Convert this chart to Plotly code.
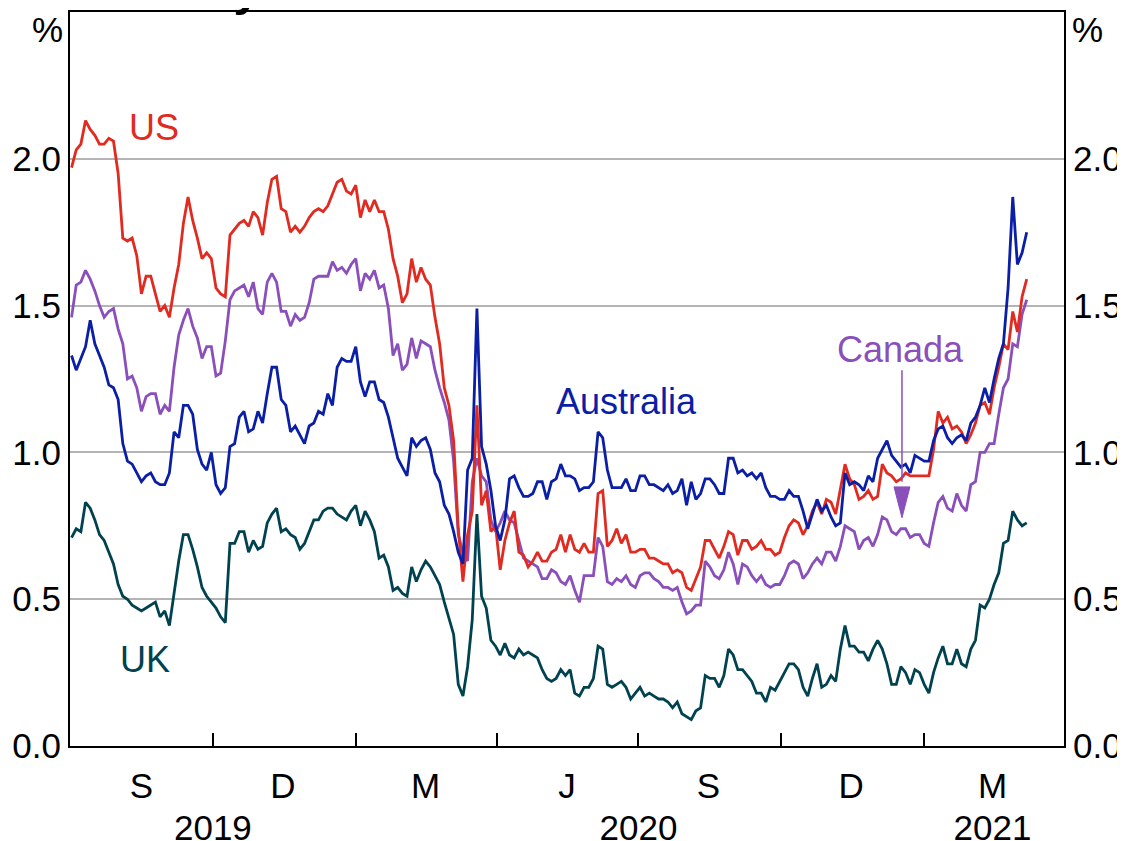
import pandas as pd
import plotly.graph_objects as go

# 10-year government bond yields, read every 3 days from Jul 2019 to Mar 2021 (%)
us = [1.97, 2.03, 2.05, 2.13, 2.10, 2.08, 2.05, 2.05, 2.07, 2.06,
      1.95, 1.73, 1.72, 1.73, 1.67, 1.54, 1.60, 1.60, 1.54, 1.48,
      1.50, 1.46, 1.56, 1.64, 1.78, 1.87, 1.79, 1.73, 1.66, 1.68,
      1.66, 1.56, 1.54, 1.53, 1.74, 1.76, 1.78,
      1.79, 1.77, 1.82, 1.80, 1.74, 1.85, 1.93, 1.94, 1.83, 1.82,
      1.75, 1.77, 1.75, 1.77, 1.80, 1.82, 1.83, 1.82, 1.84, 1.88,
      1.92, 1.93, 1.89, 1.88, 1.91, 1.80, 1.86, 1.82, 1.86, 1.82,
      1.82, 1.76, 1.66, 1.60, 1.51, 1.54, 1.66,
      1.58, 1.63, 1.59, 1.57, 1.46, 1.37, 1.22, 1.16, 1.04, 0.74,
      0.56, 0.72, 0.80, 1.16, 0.82, 0.87, 0.73, 0.75, 0.60, 0.70,
      0.76, 0.80, 0.66, 0.65, 0.61, 0.63, 0.66, 0.63, 0.63, 0.66,
      0.67, 0.72, 0.66, 0.72, 0.67, 0.66,
      0.69, 0.66, 0.66, 0.86, 0.87, 0.68, 0.70, 0.74, 0.69, 0.72,
      0.66, 0.66, 0.67, 0.67, 0.64, 0.64, 0.63, 0.62, 0.62, 0.59,
      0.60, 0.59, 0.54, 0.53, 0.57, 0.61, 0.70, 0.70, 0.67, 0.64,
      0.68, 0.73, 0.72, 0.65, 0.70, 0.70, 0.67,
      0.68, 0.70, 0.67, 0.67, 0.65, 0.66, 0.71, 0.75, 0.77, 0.76,
      0.72, 0.75, 0.80, 0.83, 0.79, 0.84, 0.83, 0.79, 0.87, 0.96,
      0.91, 0.89, 0.84, 0.85, 0.87, 0.84, 0.85, 0.96, 0.93, 0.92,
      0.90, 0.91, 0.93, 0.92, 0.92, 0.92,
      0.92, 0.92, 1.01, 1.14, 1.10, 1.12, 1.08, 1.09, 1.07, 1.03,
      1.06, 1.10, 1.16, 1.17, 1.13, 1.22, 1.29, 1.37, 1.35, 1.48,
      1.41, 1.53, 1.59]

canada = [1.46, 1.57, 1.58, 1.62, 1.59, 1.55, 1.50, 1.46, 1.48, 1.49,
          1.42, 1.37, 1.25, 1.26, 1.22, 1.14, 1.19, 1.20, 1.20, 1.13,
          1.16, 1.14, 1.29, 1.40, 1.45, 1.49, 1.43, 1.39, 1.32, 1.36,
          1.36, 1.26, 1.27, 1.38, 1.52, 1.55, 1.56,
          1.57, 1.53, 1.58, 1.49, 1.47, 1.58, 1.61, 1.58, 1.48, 1.48,
          1.43, 1.47, 1.45, 1.46, 1.51, 1.59, 1.60, 1.60, 1.60, 1.65,
          1.62, 1.63, 1.61, 1.64, 1.66, 1.55, 1.61, 1.59, 1.62, 1.56,
          1.57, 1.49, 1.33, 1.37, 1.28, 1.30, 1.39,
          1.32, 1.38, 1.37, 1.36, 1.28, 1.22, 1.17, 1.11, 0.97, 0.72,
          0.66, 0.63, 0.90, 0.98, 0.92, 0.90, 0.77, 0.73, 0.76, 0.80,
          0.77, 0.76, 0.70, 0.64, 0.63, 0.62, 0.61, 0.57, 0.57, 0.60,
          0.59, 0.56, 0.55, 0.58, 0.53, 0.49,
          0.58, 0.58, 0.58, 0.71, 0.68, 0.56, 0.55, 0.57, 0.56, 0.58,
          0.55, 0.54, 0.58, 0.59, 0.59, 0.57, 0.56, 0.54, 0.54, 0.53,
          0.54, 0.49, 0.45, 0.46, 0.48, 0.48, 0.63, 0.61, 0.58, 0.57,
          0.60, 0.66, 0.62, 0.55, 0.62, 0.61, 0.58,
          0.56, 0.58, 0.55, 0.54, 0.55, 0.55, 0.58, 0.62, 0.63, 0.62,
          0.57, 0.59, 0.62, 0.64, 0.62, 0.66, 0.66, 0.63, 0.68, 0.75,
          0.74, 0.73, 0.67, 0.70, 0.71, 0.68, 0.72, 0.78, 0.77, 0.73,
          0.72, 0.74, 0.74, 0.71, 0.72, 0.72,
          0.69, 0.68, 0.76, 0.83, 0.85, 0.81, 0.80, 0.86, 0.82, 0.80,
          0.89, 0.90, 1.00, 1.00, 1.03, 1.03, 1.13, 1.22, 1.25, 1.37,
          1.36, 1.47, 1.52]

australia = [1.33, 1.28, 1.32, 1.36, 1.45, 1.37, 1.33, 1.29, 1.23, 1.22,
             1.18, 1.03, 0.97, 0.96, 0.93, 0.90, 0.92, 0.93, 0.90, 0.89,
             0.89, 0.93, 1.07, 1.05, 1.16, 1.16, 1.13, 1.01, 0.96, 0.94,
             1.00, 0.89, 0.86, 0.88, 1.02, 1.03, 1.12,
             1.14, 1.07, 1.08, 1.14, 1.10, 1.20, 1.29, 1.29, 1.18, 1.16,
             1.07, 1.09, 1.06, 1.03, 1.09, 1.10, 1.14, 1.13, 1.20, 1.16,
             1.29, 1.32, 1.31, 1.31, 1.36, 1.24, 1.19, 1.24, 1.24, 1.18,
             1.17, 1.12, 1.05, 0.98, 0.95, 0.92, 1.05,
             1.02, 1.04, 1.05, 1.01, 0.93, 0.90, 0.82, 0.79, 0.73, 0.66,
             0.62, 0.94, 0.98, 1.49, 1.02, 0.96, 0.87, 0.75, 0.70, 0.77,
             0.91, 0.92, 0.88, 0.85, 0.85, 0.86, 0.90, 0.90, 0.84, 0.90,
             0.91, 0.96, 0.92, 0.92, 0.91, 0.87,
             0.88, 0.88, 0.90, 1.07, 1.05, 0.94, 0.88, 0.88, 0.88, 0.91,
             0.87, 0.87, 0.92, 0.92, 0.89, 0.89, 0.88, 0.87, 0.89, 0.86,
             0.87, 0.91, 0.82, 0.90, 0.84, 0.86, 0.91, 0.91, 0.89, 0.86,
             0.86, 0.98, 0.98, 0.93, 0.94, 0.92, 0.93,
             0.91, 0.93, 0.88, 0.85, 0.85, 0.84, 0.84, 0.87, 0.85, 0.85,
             0.80, 0.74, 0.79, 0.84, 0.80, 0.82, 0.78, 0.75, 0.76, 0.93,
             0.89, 0.90, 0.89, 0.87, 0.92, 0.90, 0.98, 1.01, 1.04, 0.99,
             0.97, 0.95, 0.96, 0.93, 0.99, 0.98,
             0.97, 0.97, 1.04, 1.08, 1.09, 1.05, 1.03, 1.05, 1.06, 1.04,
             1.10, 1.12, 1.16, 1.22, 1.17, 1.25, 1.32, 1.37, 1.56, 1.87,
             1.64, 1.68, 1.75]

uk = [0.71, 0.74, 0.73, 0.83, 0.81, 0.77, 0.72, 0.70, 0.66, 0.62,
      0.55, 0.51, 0.50, 0.48, 0.47, 0.46, 0.47, 0.48, 0.49, 0.44,
      0.46, 0.41, 0.52, 0.63, 0.72, 0.72, 0.67, 0.61, 0.54, 0.51,
      0.49, 0.47, 0.44, 0.42, 0.69, 0.69, 0.73,
      0.73, 0.66, 0.70, 0.67, 0.68, 0.76, 0.79, 0.81, 0.73, 0.74,
      0.72, 0.71, 0.67, 0.69, 0.73, 0.77, 0.77, 0.80, 0.81, 0.81,
      0.79, 0.78, 0.77, 0.80, 0.82, 0.75, 0.80, 0.77, 0.73, 0.64,
      0.65, 0.61, 0.53, 0.54, 0.52, 0.51, 0.61,
      0.56, 0.60, 0.63, 0.61, 0.58, 0.55, 0.49, 0.43, 0.38, 0.21,
      0.17, 0.27, 0.43, 0.79, 0.51, 0.47, 0.36, 0.34, 0.31, 0.35,
      0.31, 0.30, 0.33, 0.31, 0.32, 0.31, 0.30, 0.26, 0.23, 0.22,
      0.23, 0.26, 0.24, 0.26, 0.18, 0.17,
      0.20, 0.20, 0.23, 0.34, 0.33, 0.21, 0.20, 0.21, 0.22, 0.20,
      0.16, 0.18, 0.20, 0.17, 0.18, 0.17, 0.16, 0.16, 0.15, 0.13,
      0.15, 0.11, 0.10, 0.09, 0.12, 0.13, 0.24, 0.23, 0.23, 0.20,
      0.24, 0.33, 0.31, 0.26, 0.26, 0.24, 0.22,
      0.18, 0.18, 0.15, 0.20, 0.19, 0.22, 0.25, 0.28, 0.28, 0.26,
      0.20, 0.17, 0.23, 0.28, 0.20, 0.21, 0.24, 0.22, 0.33, 0.41,
      0.34, 0.34, 0.32, 0.32, 0.29, 0.33, 0.36, 0.33, 0.28, 0.21,
      0.21, 0.27, 0.25, 0.21, 0.26, 0.25,
      0.21, 0.18, 0.25, 0.30, 0.34, 0.28, 0.28, 0.33, 0.28, 0.27,
      0.33, 0.36, 0.48, 0.47, 0.50, 0.55, 0.59, 0.69, 0.70, 0.80,
      0.77, 0.75, 0.76]

dates = pd.date_range('2019-07-02', periods=206, freq='3D')
for s in (us, canada, australia, uk):
    assert len(s) == len(dates), len(s)

# axis labels
quarter_ticks = ['2019-08-16', '2019-11-15', '2020-02-15', '2020-05-16',
                 '2020-08-15', '2020-11-15', '2021-02-14']
quarter_text = ['S', 'D', 'M', 'J', 'S', 'D', 'M']
quarter_edges = ['2019-10-01', '2020-01-01', '2020-04-01', '2020-07-01',
                 '2020-10-01', '2021-01-01']
year_ticks = ['2019-10-01', '2020-07-01', '2021-02-14']
year_text = ['2019', '2020', '2021']
y_ticks = [0, 0.5, 1.0, 1.5, 2.0]
y_text = ['0.0', '0.5', '1.0', '1.5', '2.0']

FONT = 'Arial, Liberation Sans, sans-serif'
colores = {'UK': '#00424f', 'Canada': '#8a4fba', 'US': '#e12a20', 'Australia': '#0a1ea6'}

fig = go.Figure()
for nombre, serie in [('UK', uk), ('Canada', canada), ('US', us), ('Australia', australia)]:
    fig.add_trace(go.Scatter(x=dates, y=serie, mode='lines', name=nombre,
                             line=dict(color=colores[nombre], width=2.8)))

# etiqueta de años en una segunda fila (eje superpuesto)
fig.add_trace(go.Scatter(x=[dates[0]], y=[None], xaxis='x2', yaxis='y2',
                         showlegend=False, hoverinfo='skip'))

# la página pone el gráfico 8 px a la derecha y abajo (margen del body)
fig.update_layout(
    width=1117, height=833,
    margin=dict(l=62, r=61, t=4, b=95),
    paper_bgcolor='white', plot_bgcolor='white',
    showlegend=False,
    font=dict(family=FONT, color='black', size=35),
    xaxis=dict(type='date', range=['2019-07-01', '2021-04-01'], automargin=False,
               tickmode='array', tickvals=quarter_ticks, ticktext=quarter_text,
               ticks='', showgrid=False, zeroline=False,
               showline=True, linecolor='black', linewidth=2, mirror=True,
               tickfont=dict(size=35), ticklabelstandoff=8,
               minor=dict(tickmode='array', tickvals=quarter_edges, ticks='inside',
                          ticklen=13, tickwidth=1.5, tickcolor='black', showgrid=False)),
    xaxis2=dict(type='date', overlaying='x', matches='x', side='bottom', anchor='y',
                automargin=False, tickmode='array', tickvals=year_ticks,
                ticktext=['<br>' + t for t in year_text],
                ticks='', showgrid=False, showline=False, zeroline=False,
                tickfont=dict(size=35), ticklabelstandoff=12),
    yaxis=dict(range=[0, 2.5], tickmode='array', tickvals=y_ticks, ticktext=y_text,
               automargin=False,
               showgrid=True, gridcolor='#b4b4b4', gridwidth=1.5, zeroline=False,
               showline=True, linecolor='black', linewidth=2, ticks='',
               tickfont=dict(size=35)),
    yaxis2=dict(range=[0, 2.5], overlaying='y', side='right', anchor='x',
                automargin=False, tickmode='array', tickvals=y_ticks, ticktext=y_text,
                showgrid=False, zeroline=False,
                showline=True, linecolor='black', linewidth=2, ticks='',
                tickfont=dict(size=35)),
)

# etiquetas de las series
etiquetas = [('US', '2019-08-24', 2.108), ('Australia', '2020-06-23', 1.172),
             ('Canada', '2020-12-17', 1.349), ('UK', '2019-08-18', 0.293)]
for nombre, fx, fy in etiquetas:
    fig.add_annotation(x=fx, y=fy, xref='x', yref='y', text=nombre, showarrow=False,
                       font=dict(size=36, color=colores[nombre], family=FONT))

# flecha de Canada
fig.add_shape(type='line', xref='paper', yref='paper', x0=0.837, x1=0.837,
              y0=0.512, y1=0.36, line=dict(color=colores['Canada'], width=1.5))
fig.add_shape(type='path', xref='paper', yref='paper',
              path='M 0.829 0.353 L 0.845 0.353 L 0.837 0.311 Z',
              fillcolor=colores['Canada'], line=dict(color=colores['Canada'], width=1))

# unidades
fig.add_annotation(x=-0.0231, y=0.9755, xref='paper', yref='paper', text='%',
                   xanchor='center', yanchor='middle', showarrow=False,
                   font=dict(size=35))
fig.add_annotation(x=1.0241, y=0.9755, xref='paper', yref='paper', text='%',
                   xanchor='center', yanchor='middle', showarrow=False,
                   font=dict(size=35))

# título (queda casi fuera de la página)
fig.add_annotation(x=0.4855, y=0.992, xref='paper', yref='paper', yanchor='bottom',
                   xanchor='center',
                   text='<b>10-year Government Bond Yields</b>', showarrow=False,
                   font=dict(size=50))

fig.write_html("out.html")
